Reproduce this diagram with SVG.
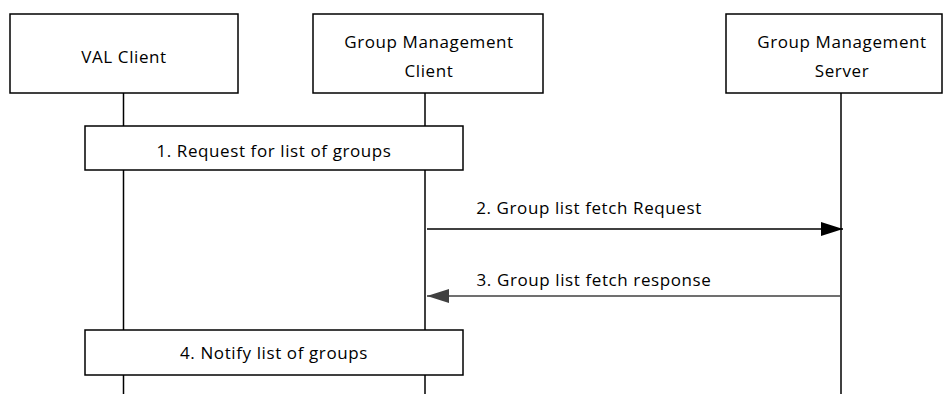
<svg xmlns="http://www.w3.org/2000/svg" width="943" height="394" viewBox="0 0 943 394">
<style>
.box{fill:#fff;stroke:#000;stroke-width:1.5}
.life{stroke:#000;stroke-width:1.5;fill:none}
text{font-family:"Open Sans","Liberation Sans",sans-serif;font-size:17px;letter-spacing:0.6px;fill:#000;text-anchor:middle}
.msg{stroke-width:1.5;fill:none}
</style>
<defs>
<marker id="ahB" markerUnits="userSpaceOnUse" markerWidth="22" markerHeight="14" refX="22" refY="7" orient="auto"><path d="M0,0 L22,7 L0,14 Z" fill="#000"/></marker>
<marker id="ahG" markerUnits="userSpaceOnUse" markerWidth="22" markerHeight="14" refX="22" refY="7" orient="auto"><path d="M0,0 L22,7 L0,14 Z" fill="#404040"/></marker>
</defs>
<g id="lifelines">
<line class="life" x1="123.5" y1="93" x2="123.5" y2="394"/>
<line class="life" x1="425" y1="93" x2="425" y2="394"/>
<line class="life" x1="841" y1="93" x2="841" y2="394"/>
</g>
<g id="val-client"><rect class="box" x="10" y="14" width="228" height="79"/><text x="124" y="63">VAL Client</text></g>
<g id="gm-client"><rect class="box" x="313" y="14" width="230" height="79"/><text x="429" y="48">Group Management</text><text x="429" y="77">Client</text></g>
<g id="gm-server"><rect class="box" x="726" y="14" width="216" height="79"/><text x="842" y="48">Group Management</text><text x="842" y="77">Server</text></g>
<g id="step1"><rect class="box" x="85" y="126" width="378" height="44"/><text x="274" y="157">1. Request for list of groups</text></g>
<g id="step4"><rect class="box" x="85" y="330" width="378" height="45"/><text x="274" y="359">4. Notify list of groups</text></g>
<g id="connectors">
<line class="msg" x1="427" y1="229" x2="843" y2="229" stroke="#000" marker-end="url(#ahB)"/>
<text x="589" y="214">2. Group list fetch Request</text>
<line class="msg" x1="840" y1="296" x2="427" y2="296" stroke="#404040" marker-end="url(#ahG)"/>
<text x="594" y="286">3. Group list fetch response</text>
</g>
</svg>
